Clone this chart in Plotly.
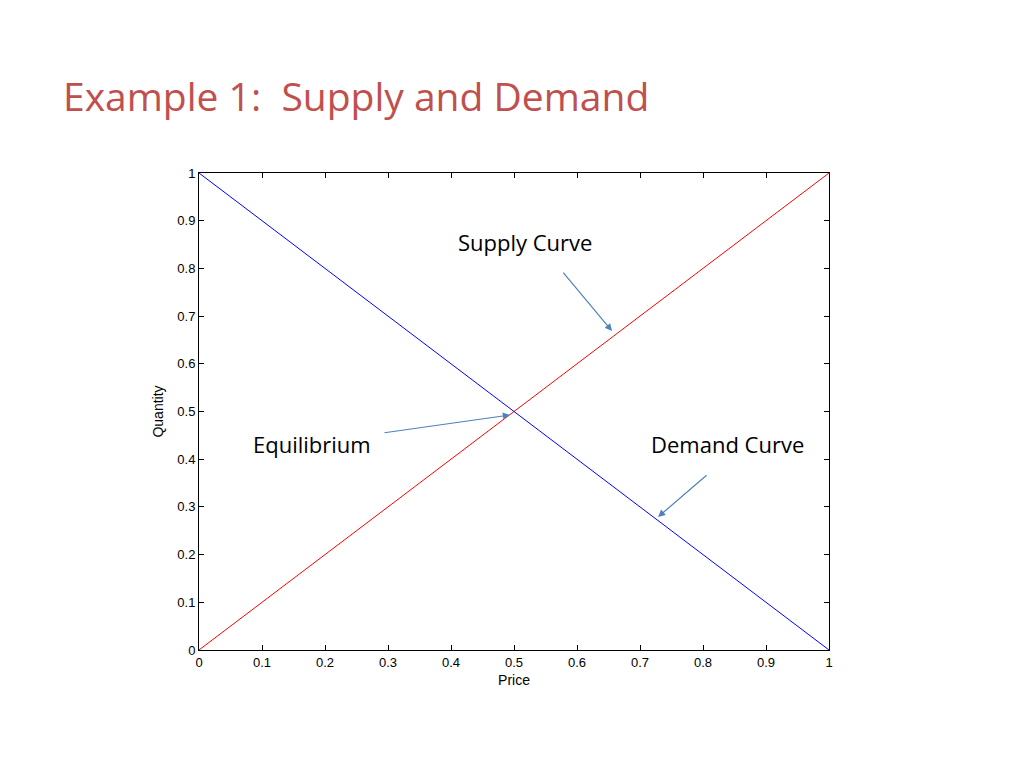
import plotly.graph_objects as go

price = [0, 0.5, 1]
supply = [0, 0.5, 1]
demand = [1, 0.5, 0]

tick_vals = [0, 0.1, 0.2, 0.3, 0.4, 0.5, 0.6, 0.7, 0.8, 0.9, 1]
tick_text = ["0", "0.1", "0.2", "0.3", "0.4", "0.5", "0.6", "0.7", "0.8", "0.9", "1"]

labels = ["Supply Curve", "Equilibrium", "Demand Curve"]
label_x = [0.518, 0.180, 0.839]
label_y = [0.855, 0.432, 0.432]
arrow_head_x = [0.6556, 0.4937, 0.7286]
arrow_head_y = [0.6688, 0.4927, 0.2788]
arrow_tail_x = [0.5762, 0.292, 0.808]
arrow_tail_y = [0.7945, 0.455, 0.369]

fig = go.Figure()
fig.add_trace(go.Scatter(x=price, y=supply, mode="lines",
                         line=dict(color="#FF0000", width=1), showlegend=False))
fig.add_trace(go.Scatter(x=price, y=demand, mode="lines",
                         line=dict(color="#0000FF", width=1), showlegend=False))

annotations = []
for t, lx, ly in zip(labels, label_x, label_y):
    annotations.append(dict(x=lx, y=ly, xref="x", yref="y", text=t, showarrow=False,
                            font=dict(family="Open Sans", size=22, color="black")))
for hx, hy, tx, ty in zip(arrow_head_x, arrow_head_y, arrow_tail_x, arrow_tail_y):
    annotations.append(dict(x=hx, y=hy, xref="x", yref="y", ax=tx, ay=ty,
                            axref="x", ayref="y", text="", showarrow=True,
                            arrowhead=2, arrowsize=1.2, arrowwidth=1.2,
                            arrowcolor="#4F81BD"))

fig.update_layout(
    width=1024, height=768,
    margin=dict(l=191, r=203, t=165, b=126),
    paper_bgcolor="white", plot_bgcolor="white",
    title=dict(text="Example 1:  Supply and Demand", x=55/1024, xanchor="left",
               y=1-89/768, yanchor="middle",
               font=dict(family="Open Sans", size=39, color="#C0504D")),
    annotations=annotations,
    xaxis=dict(range=[0, 1], tickvals=tick_vals, ticktext=tick_text,
               ticks="inside", ticklen=5, tickcolor="black", mirror="ticks",
               showline=True, linecolor="black", linewidth=1, showgrid=False,
               zeroline=False, tickfont=dict(family="Liberation Sans", size=13, color="black"),
               title=dict(text="Price", font=dict(family="Liberation Sans", size=14, color="black"),
                          standoff=6)),
    yaxis=dict(range=[0, 1], tickvals=tick_vals, ticktext=tick_text,
               ticks="inside", ticklen=5, tickcolor="black", mirror="ticks",
               showline=True, linecolor="black", linewidth=1, showgrid=False,
               zeroline=False, tickfont=dict(family="Liberation Sans", size=13, color="black"),
               title=dict(text="Quantity", font=dict(family="Liberation Sans", size=14, color="black"),
                          standoff=10)),
)

fig.write_html("out.html")
